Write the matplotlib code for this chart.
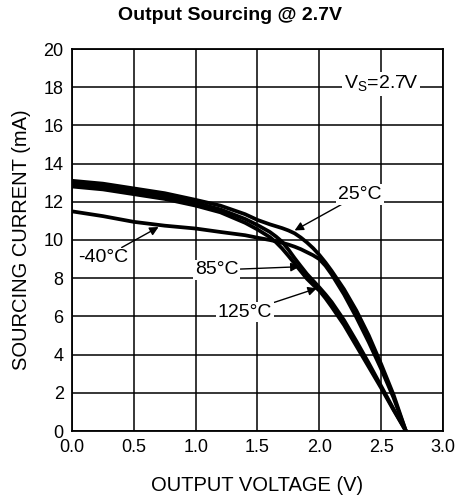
import matplotlib
matplotlib.use('Agg')
import matplotlib.pyplot as plt

plt.rcParams['font.family'] = ['Liberation Sans', 'DejaVu Sans']

# --- data ---
volts = [0.0, 0.25, 0.5, 0.75, 1.0, 1.2, 1.4, 1.5, 1.6, 1.65, 1.7, 1.75, 1.8, 1.85,
         1.9, 1.95, 2.0, 2.05, 2.1, 2.2, 2.3, 2.4, 2.5, 2.6, 2.7]
i_25c = [13.1, 12.95, 12.7, 12.45, 12.1, 11.8, 11.35, 11.05, 10.82, 10.72, 10.62, 10.5, 10.35, 10.13,
         9.87, 9.57, 9.22, 8.82, 8.38, 7.42, 6.3, 5.0, 3.5, 1.9, 0.0]
i_85c = [12.95, 12.8, 12.55, 12.3, 11.95, 11.6, 11.1, 10.78, 10.42, 10.18, 9.9, 9.5, 9.05, 8.63,
         8.22, 7.87, 7.52, 7.15, 6.75, 5.8, 4.7, 3.55, 2.35, 1.15, 0.0]
i_125c = [12.8, 12.65, 12.4, 12.15, 11.8, 11.45, 10.9, 10.55, 10.15, 9.88, 9.55, 9.17, 8.77, 8.37,
          7.97, 7.65, 7.35, 6.95, 6.5, 5.55, 4.45, 3.35, 2.25, 1.1, 0.0]
i_m40c = [11.5, 11.25, 10.95, 10.75, 10.6, 10.42, 10.25, 10.12, 10.0, 9.93, 9.85, 9.76, 9.65, 9.52,
          9.36, 9.2, 9.0, 8.65, 8.2, 7.15, 5.95, 4.65, 3.25, 1.75, 0.0]

x_ticks = [0.0, 0.5, 1.0, 1.5, 2.0, 2.5, 3.0]
y_ticks = list(range(0, 21, 2))

fig = plt.figure(figsize=(4.6, 5.0), dpi=100)
ax = fig.add_axes([0.1565, 0.138, 0.8065, 0.764])

for cur in (i_m40c, i_125c, i_85c, i_25c):
    ax.plot(volts, cur, color='black', lw=2.7, solid_capstyle='butt',
            solid_joinstyle='round', zorder=3)

ax.set_xlim(0, 3.0)
ax.set_ylim(0, 20)
ax.set_xticks(x_ticks)
ax.set_xticklabels([f"{v:.1f}" for v in x_ticks])
ax.set_yticks(y_ticks)
ax.tick_params(length=0, labelsize=13, pad=6)
ax.grid(True, color='black', lw=1.1)
for sp in ax.spines.values():
    sp.set_linewidth(1.3)

ax.set_xlabel("OUTPUT VOLTAGE (V)", fontsize=14.5, labelpad=14)
ax.set_ylabel("SOURCING CURRENT (mA)", fontsize=14.5, labelpad=9)
fig.suptitle("Output Sourcing @ 2.7V", fontsize=14, fontweight='bold', x=0.5, y=0.985)

box = dict(boxstyle='square,pad=0.1', fc='white', ec='none')
arrow = dict(arrowstyle='-|>', color='black', lw=1.0, mutation_scale=13, shrinkA=0, shrinkB=0)

ax.annotate("25°C", xy=(1.80, 10.5), xytext=(2.33, 12.4), fontsize=14,
            ha='center', va='center', bbox=box, arrowprops=arrow, zorder=5)
ax.annotate("-40°C", xy=(0.70, 10.68), xytext=(0.25, 9.06), fontsize=14,
            ha='center', va='center', bbox=box, arrowprops=arrow, zorder=5)
ax.annotate("85°C", xy=(1.84, 8.6), xytext=(1.17, 8.43), fontsize=14,
            ha='center', va='center', bbox=box, arrowprops=arrow, zorder=5)
ax.annotate("125°C", xy=(1.98, 7.47), xytext=(1.40, 6.23), fontsize=14,
            ha='center', va='center', bbox=box, arrowprops=arrow, zorder=5)
ax.text(2.50, 18.15, "V$_\\mathregular{S}$=2.7V", fontsize=14, ha='center', va='center',
        bbox=box, zorder=5)

fig.savefig("out.png", dpi=100)
